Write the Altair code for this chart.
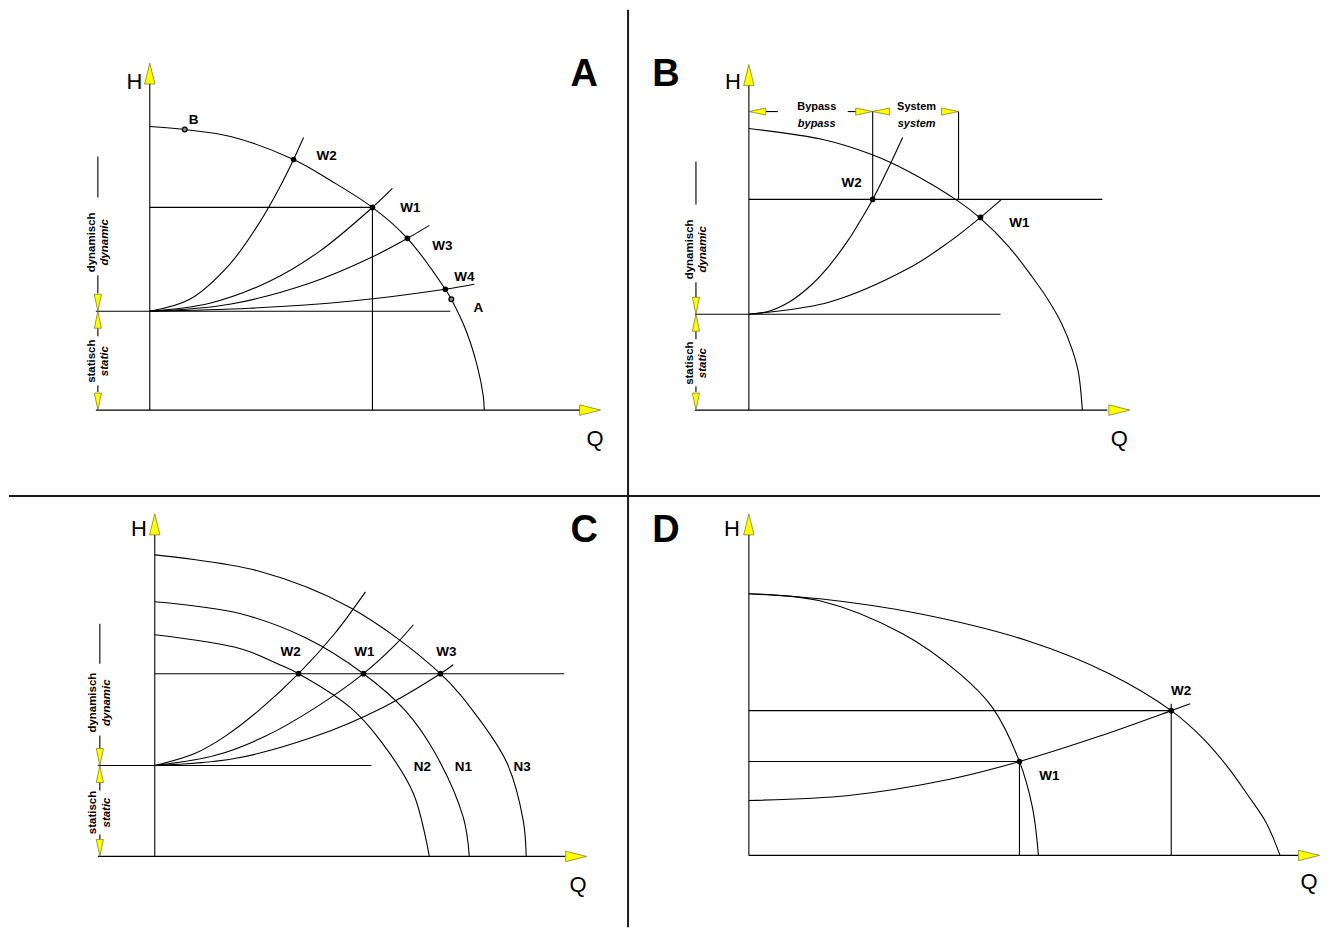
import altair as alt
import pandas as pd

FONT = "Liberation Sans"

# ================= Panel A (Q, H in drawing units, origin = axis corner) =================
A_PUMP_Q = [0, 35, 81, 144, 181, 223, 258, 296, 302, 317, 328, 334, 335]
A_PUMP_H = [284, 281, 274, 251, 230, 203, 172, 121, 111, 79, 44, 14, 0]
A_W2_Q = [0, 40, 80, 110, 130, 144, 154]
A_W2_H = [99, 111, 146, 188, 223, 251, 273]
A_W1_Q = [0, 60, 120, 170, 223, 243]
A_W1_H = [99, 107, 129, 159, 203, 222]
A_W3_Q = [0, 80, 160, 220, 258, 280]
A_W3_H = [99, 106, 127, 152, 172, 185]
A_W4_Q = [0, 100, 200, 296, 325]
A_W4_H = [99, 102, 109, 121, 126]
A_SEGS = [(0, 0, 0, 329), (-54, 432, 0, 0), (-54, 301, 99, 99), (0, 223, 203, 203), (223, 223, 0, 203),
          (-52, -52, 213, 254), (-52, -52, 117, 135), (-52, -52, 74, 82), (-52, -52, 18, 25)]
A_AXIS_ARROWS = [(0, 337, "up"), (441, 0, "right")]
A_DIM_ARROWS = [(-52, 107.5, "down"), (-52, 90.5, "up"), (-52, 8.5, "down")]
A_AXIS_TEXT = [("H", -15.5, 329), ("Q", 446, -29)]
A_BIG_TEXT = [("A", 435, 336)]
A_LABELS = [("B", 44, 291), ("W2", 177, 254), ("W1", 261, 202), ("W3", 293, 164), ("W4", 315, 133), ("A", 329, 102)]
A_DIM_DE = [("dynamisch", -58, 168), ("statisch", -58, 49)]
A_DIM_EN = [("dynamic", -45, 168), ("static", -45, 49)]
A_DOTS = [(144, 251), (223, 203), (258, 172), (296, 121)]
A_HOLLOW = [(35, 281), (302, 111)]

# ================= Panel B =================
B_PUMP_Q = [0, 74, 123, 160, 210, 232, 260, 284, 300, 314, 324, 330, 334]
B_PUMP_H = [282, 271, 256, 239, 209, 192, 164, 133, 110, 85, 60, 38, 0]
B_W2_Q = [0, 20, 40, 60, 80, 100, 110, 124, 140, 154]
B_W2_H = [96, 99, 108, 123, 144, 171, 187, 211, 243, 273]
B_W1_Q = [0, 80, 160, 200, 232, 253]
B_W1_H = [96, 108, 142, 168, 193, 211]
B_SEGS = [(0, 0, 0, 326), (-54, 359, 0, 0), (-54, 252, 96, 96), (0, 354, 211, 211),
          (124, 124, 211, 299), (210, 210, 211, 299), (17, 29, 299, 299), (99, 107, 299, 299),
          (-53, -53, 206, 249), (-53, -53, 113, 128), (-53, -53, 71, 79), (-53, -53, 18, 24)]
B_AXIS_ARROWS = [(0, 335.5, "up"), (371, 0, "right")]
B_DIM_ARROWS = [(-53, 104.5, "down"), (-53, 87.5, "up"), (-53, 8.5, "down"),
                (8.5, 299, "left"), (115.5, 299, "right"), (132.5, 299, "left"), (201.5, 299, "right")]
B_AXIS_TEXT = [("H", -16, 329), ("Q", 371, -29)]
B_BIG_TEXT = [("B", -83, 336)]
B_LABELS = [("W2", 103, 227), ("W1", 271, 187)]
B_DIM_DE = [("dynamisch", -59, 161), ("statisch", -59, 47)]
B_DIM_EN = [("dynamic", -46, 161), ("static", -46, 47)]
B_ROW_DE = [("Bypass", 68, 304), ("System", 168, 304)]
B_ROW_EN = [("bypass", 68, 287), ("system", 168, 287)]
B_DOTS = [(124, 211), (232, 193)]

# ================= Panel C =================
C_N3_Q = [0, 103, 196, 286, 323, 353, 369, 372]
C_N3_H = [302, 286, 249, 183, 140, 93, 36, 0]
C_N1_Q = [0, 86, 151, 209, 251, 281, 309, 315]
C_N1_H = [255, 243, 219, 183, 146, 103, 39, 0]
C_N2_Q = [0, 86, 125, 144, 196, 226, 259, 275]
C_N2_H = [222, 208, 192, 183, 149, 116, 63, 0]
C_W2_Q = [0, 40, 70, 104, 144, 180, 211]
C_W2_H = [91, 103, 120, 146, 183, 223, 265]
C_W1_Q = [0, 60, 110, 161, 209, 240, 259]
C_W1_H = [91, 101, 120, 149, 183, 211, 232]
C_W3_Q = [0, 80, 160, 228, 286, 299]
C_W3_H = [91, 98, 120, 149, 183, 192]
C_SEGS = [(0, 0, 0, 323), (-57, 411, 0, 0), (-57, 217, 91, 91), (0, 410, 183, 183),
          (-55, -55, 193, 233), (-55, -55, 108, 121), (-55, -55, 66, 74), (-55, -55, 17, 22)]
C_AXIS_ARROWS = [(0, 332.5, "up"), (422, 0, "right")]
C_DIM_ARROWS = [(-55, 99.5, "down"), (-55, 82.5, "up"), (-55, 8.5, "down")]
C_AXIS_TEXT = [("H", -16, 328), ("Q", 424, -29)]
C_BIG_TEXT = [("C", 430, 326)]
C_LABELS = [("W2", 136, 205), ("W1", 210, 205), ("W3", 292, 205), ("N2", 268, 90), ("N1", 309, 90), ("N3", 368, 90)]
C_DIM_DE = [("dynamisch", -62, 154), ("statisch", -62, 44)]
C_DIM_EN = [("dynamic", -48, 154), ("static", -48, 44)]
C_DOTS = [(144, 183), (209, 183), (286, 183)]

# ================= Panel D =================
D_BIG_Q = [0, 71, 171, 279, 361, 423, 455, 480, 500, 518, 532]
D_BIG_H = [262, 257, 242, 215, 182, 145, 117, 88, 60, 33, 0]
D_SMALL_Q = [0, 71, 154, 211, 244, 271, 284, 290]
D_SMALL_H = [262, 255, 222, 182, 148, 94, 48, 0]
D_SYS_Q = [0, 100, 200, 271, 350, 423, 442]
D_SYS_H = [55, 60, 76, 94, 119, 145, 152]
D_SEGS = [(0, 0, 0, 322), (0, 550, 0, 0), (0, 271, 94, 94), (271, 271, 0, 94),
          (0, 423, 145, 145), (423, 423, 0, 152)]
D_AXIS_ARROWS = [(0, 331.5, "up"), (561, 0, "right")]
D_AXIS_TEXT = [("H", -17, 327), ("Q", 561, -27)]
D_BIG_TEXT = [("D", -83, 325)]
D_LABELS = [("W1", 301, 80), ("W2", 433, 165)]
D_DOTS = [(271, 94), (423, 145)]

# panel frames (visible Q/H window of each quadrant) and view sizes
FRAMES = {
    "A": dict(x=[-141, 479], y=[-86, 401], w=620, h=487),
    "B": dict(x=[-121, 572], y=[-86, 401], w=693, h=487),
    "C": dict(x=[-146, 474], y=[-71, 361], w=620, h=432),
    "D": dict(x=[-121, 572], y=[-72, 360], w=693, h=432),
}

AXIS_SHAPE = "M0,-1L0.5,1L-0.5,1Z"
DIM_SHAPE = "M0,-1L0.42,1L-0.42,1Z"
DIR_DEG = {"up": 0, "right": 90, "down": 180, "left": 270}


def curves_df(curves):
    rows = []
    for cid, (qs, hs) in curves.items():
        for i, (q, h) in enumerate(zip(qs, hs)):
            rows.append({"id": cid, "i": i, "q": q, "h": h})
    return pd.DataFrame(rows)


def arrows_df(items):
    df = pd.DataFrame(items, columns=["q", "h", "dir"])
    df["deg"] = df["dir"].map(DIR_DEG)
    return df


def build(frame, curves, segs, axis_arrows, dim_arrows, axis_text, big_text, labels,
          dim_de, dim_en, dots, hollow=None, row_de=None, row_en=None, right_sep=False, bottom_sep=False):
    xs = alt.Scale(domain=frame["x"], nice=False, zero=False)
    ys = alt.Scale(domain=frame["y"], nice=False, zero=False)

    def X(f="q"):
        return alt.X(f + ":Q", scale=xs, axis=None)

    def Y(f="h"):
        return alt.Y(f + ":Q", scale=ys, axis=None)

    layers = []
    layers.append(alt.Chart(curves_df(curves)).mark_line(color="black", strokeWidth=1.1, interpolate="catmull-rom")
                  .encode(x=X(), y=Y(), detail="id:N", order="i:O"))
    sdf = pd.DataFrame(segs, columns=["q", "q2", "h", "h2"])
    layers.append(alt.Chart(sdf).mark_rule(color="black", strokeWidth=1.1)
                  .encode(x=X(), x2=alt.X2("q2"), y=Y(), y2=alt.Y2("h2")))
    one = pd.DataFrame({"k": [0]})
    if right_sep:
        layers.append(alt.Chart(one).mark_rule(color="#1a1a1a", strokeWidth=2)
                      .encode(x=alt.value(frame["w"]), y=alt.value(0), y2=alt.value(frame["h"])))
    if bottom_sep:
        layers.append(alt.Chart(one).mark_rule(color="#1a1a1a", strokeWidth=2)
                      .encode(y=alt.value(frame["h"]), x=alt.value(0), x2=alt.value(frame["w"])))
    layers.append(alt.Chart(arrows_df(axis_arrows)).mark_point(shape=AXIS_SHAPE, size=440, filled=True,
                                                               fill="#ffff00", stroke="#5a5a00",
                                                               strokeWidth=0.6, opacity=1)
                  .encode(x=X(), y=Y(), angle=alt.Angle("deg:Q", scale=None)))
    if dim_arrows:
        layers.append(alt.Chart(arrows_df(dim_arrows)).mark_point(shape=DIM_SHAPE, size=290, filled=True,
                                                                  fill="#ffff00", stroke="#5a5a00",
                                                                  strokeWidth=0.6, opacity=1)
                      .encode(x=X(), y=Y(), angle=alt.Angle("deg:Q", scale=None)))
    pdf = pd.DataFrame(dots, columns=["q", "h"])
    layers.append(alt.Chart(pdf).mark_circle(size=32, color="black", opacity=1).encode(x=X(), y=Y()))
    if hollow:
        hdf = pd.DataFrame(hollow, columns=["q", "h"])
        layers.append(alt.Chart(hdf).mark_point(shape="circle", size=22, filled=True, fill="#888888",
                                                stroke="black", strokeWidth=1.3, opacity=1)
                      .encode(x=X(), y=Y()))

    def text_layer(items, **props):
        tdf = pd.DataFrame(items, columns=["t", "q", "h"])
        return alt.Chart(tdf).mark_text(font=FONT, color="black", align="center", baseline="middle", **props) \
            .encode(x=X(), y=Y(), text="t:N")

    layers.append(text_layer(axis_text, fontSize=22))
    layers.append(text_layer(big_text, fontSize=38, fontWeight="bold"))
    layers.append(text_layer(labels, fontSize=13.5, fontWeight="bold"))
    if dim_de:
        layers.append(text_layer(dim_de, fontSize=11.5, fontWeight="bold", angle=270))
        layers.append(text_layer(dim_en, fontSize=11.5, fontWeight="bold", fontStyle="italic", angle=270))
    if row_de:
        layers.append(text_layer(row_de, fontSize=11, fontWeight="bold"))
        layers.append(text_layer(row_en, fontSize=11, fontWeight="bold", fontStyle="italic"))
    return alt.layer(*layers).properties(width=frame["w"], height=frame["h"])


pa = build(FRAMES["A"],
           {"pump": (A_PUMP_Q, A_PUMP_H), "w2": (A_W2_Q, A_W2_H), "w1": (A_W1_Q, A_W1_H),
            "w3": (A_W3_Q, A_W3_H), "w4": (A_W4_Q, A_W4_H)},
           A_SEGS, A_AXIS_ARROWS, A_DIM_ARROWS, A_AXIS_TEXT, A_BIG_TEXT, A_LABELS,
           A_DIM_DE, A_DIM_EN, A_DOTS, hollow=A_HOLLOW, right_sep=True, bottom_sep=True)
pb = build(FRAMES["B"],
           {"pump": (B_PUMP_Q, B_PUMP_H), "w2": (B_W2_Q, B_W2_H), "w1": (B_W1_Q, B_W1_H)},
           B_SEGS, B_AXIS_ARROWS, B_DIM_ARROWS, B_AXIS_TEXT, B_BIG_TEXT, B_LABELS,
           B_DIM_DE, B_DIM_EN, B_DOTS, row_de=B_ROW_DE, row_en=B_ROW_EN, bottom_sep=True)
pc = build(FRAMES["C"],
           {"n3": (C_N3_Q, C_N3_H), "n1": (C_N1_Q, C_N1_H), "n2": (C_N2_Q, C_N2_H),
            "w2": (C_W2_Q, C_W2_H), "w1": (C_W1_Q, C_W1_H), "w3": (C_W3_Q, C_W3_H)},
           C_SEGS, C_AXIS_ARROWS, C_DIM_ARROWS, C_AXIS_TEXT, C_BIG_TEXT, C_LABELS,
           C_DIM_DE, C_DIM_EN, C_DOTS, right_sep=True)
pdd = build(FRAMES["D"],
            {"big": (D_BIG_Q, D_BIG_H), "small": (D_SMALL_Q, D_SMALL_H), "sys": (D_SYS_Q, D_SYS_H)},
            D_SEGS, D_AXIS_ARROWS, None, D_AXIS_TEXT, D_BIG_TEXT, D_LABELS,
            None, None, D_DOTS)

chart = alt.concat(pa, pb, pc, pdd, columns=2, spacing=0, bounds="flush", padding=0, background="white") \
    .configure_view(stroke=None)

chart.save("out.html", embed_options={"renderer": "svg", "actions": False})
